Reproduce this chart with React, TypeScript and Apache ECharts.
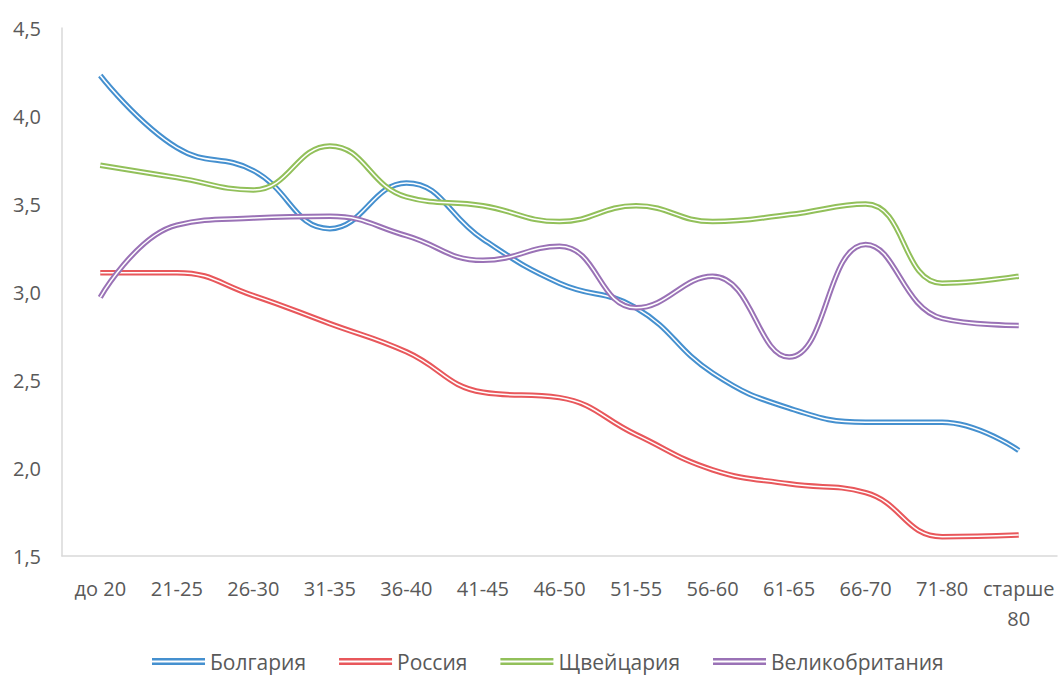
import React, { useEffect, useRef } from "react";
import * as echarts from "echarts";

const categories = ["до 20", "21-25", "26-30", "31-35", "36-40", "41-45", "46-50", "51-55", "56-60", "61-65", "66-70", "71-80", "старше 80"];
const bulgaria = [4.23, 3.82, 3.69, 3.36, 3.62, 3.3, 3.05, 2.91, 2.54, 2.34, 2.26, 2.26, 2.1];
const russia = [3.11, 3.11, 2.98, 2.82, 2.66, 2.43, 2.4, 2.19, 1.99, 1.91, 1.86, 1.61, 1.62];
const switzerland = [3.72, 3.65, 3.58, 3.83, 3.54, 3.49, 3.4, 3.49, 3.4, 3.44, 3.5, 3.05, 3.09];
const uk = [2.97, 3.38, 3.42, 3.43, 3.32, 3.18, 3.26, 2.91, 3.09, 2.63, 3.27, 2.85, 2.81];

const seriesNames = ["Болгария", "Россия", "Щвейцария", "Великобритания"];
const seriesData = [bulgaria, russia, switzerland, uk];
const colors = ["#4590cf", "#e8575b", "#92c05a", "#9a72b6"];

export default function App() {
  const ref = useRef<HTMLDivElement>(null);
  useEffect(() => {
    if (!ref.current) return;
    const chart = echarts.init(ref.current, null, { renderer: "svg" });
    const series: any[] = [];
    seriesNames.forEach((name, i) => {
      series.push({
        name,
        type: "line",
        data: seriesData[i],
        smooth: 0.45,
        symbol: "none",
        lineStyle: { color: colors[i], width: 5.5 },
        itemStyle: { color: colors[i] },
        z: 2 + i * 2,
      });
      series.push({
        name: name + "_inner",
        type: "line",
        data: seriesData[i],
        smooth: 0.45,
        symbol: "none",
        lineStyle: { color: "#ffffff", width: 1.5 },
        itemStyle: { color: "#ffffff" },
        z: 3 + i * 2,
        legendHoverLink: false,
      });
    });
    chart.setOption({
      animation: false,
      textStyle: { fontFamily: "Open Sans" },
      grid: { left: 62, right: 5, top: 28, bottom: 119 },
      legend: {
        data: seriesNames,
        top: 651,
        left: 152,
        padding: 0,
        icon: "path://M0,0 H53 V2.5 H0 Z M0,4.5 H53 V7 H0 Z",
        itemWidth: 53,
        itemHeight: 7,
        itemGap: 33,
        textStyle: { color: "#595959", fontSize: 21, fontFamily: "Open Sans" },
      },
      xAxis: {
        type: "category",
        data: categories,
        boundaryGap: true,
        axisLine: { lineStyle: { color: "#d9d9d9", width: 1.5 } },
        axisTick: { show: false },
        axisLabel: {
          color: "#595959",
          fontSize: 20,
          margin: 17,
          interval: 0,
          lineHeight: 30,
          formatter: (v: string) => v.replace("старше ", "старше\n"),
        },
      },
      yAxis: {
        type: "value",
        min: 1.5,
        max: 4.5,
        interval: 0.5,
        axisLine: { show: true, lineStyle: { color: "#d9d9d9", width: 1.5 } },
        axisTick: { show: false },
        splitLine: { show: false },
        axisLabel: {
          color: "#595959",
          fontSize: 20,
          margin: 21,
          formatter: (v: number) => v.toFixed(1).replace(".", ","),
        },
      },
      series,
    });
    return () => chart.dispose();
  }, []);
  return <div ref={ref} style={{ width: 1062, height: 675, position: "absolute", left: 0, top: 0 }} />;
}
